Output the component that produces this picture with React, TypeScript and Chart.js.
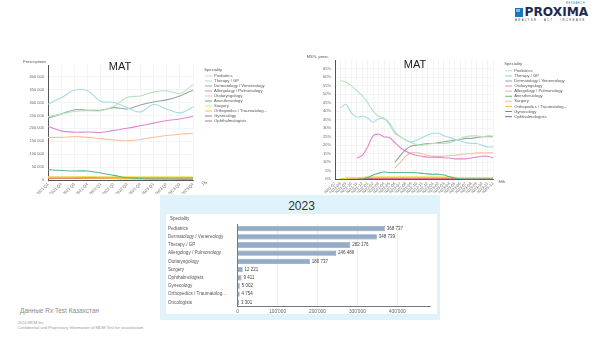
import React, { useEffect, useRef } from 'react';
import { Chart, registerables } from 'chart.js';

Chart.register(...registerables);

const FONT = "'Liberation Sans', Arial, Helvetica, sans-serif";

// ---------- Left chart: prescriptions, MAT by quarter ----------
const quarterLabels = ['2021 Q1', '2021 Q2', '2021 Q3', '2021 Q4', '2022 Q1', '2022 Q2', '2022 Q3', '2022 Q4', '2023 Q1', '2023 Q2', '2023 Q3', '2023 Q4'];
const rxTickValues = [0, 50000, 100000, 150000, 200000, 250000, 300000, 350000, 400000];
const rxSpecialities = ['Pediatrics', 'Therapy / GP', 'Dermatology / Venereology', 'Allergology / Pulmonology', 'Otolaryngology', 'Anesthesiology', 'Surgery', 'Orthopedics / Traumatolog...', 'Gynecology', 'Ophthalmologists'];
const rxPediatrics = [245000, 255000, 265000, 268000, 268000, 285000, 320000, 325000, 340000, 345000, 335000, 368700];
const rxTherapyGP = [293000, 318000, 347000, 345000, 305000, 300000, 280000, 263000, 292000, 275000, 260000, 282200];
const rxDermatology = [240000, 255000, 272000, 270000, 270000, 280000, 275000, 290000, 302000, 310000, 325000, 348700];
const rxAllergology = [208000, 190000, 185000, 186000, 184000, 192000, 200000, 210000, 220000, 230000, 236000, 246500];
const rxOtolaryngology = [165000, 165000, 168000, 165000, 160000, 155000, 152000, 157000, 165000, 172000, 177000, 180700];
const rxAnesthesiology = [40000, 37000, 35000, 35000, 27000, 18000, 9000, 6000, 4000, 4000, 3500, 3500];
const rxSurgery = [12000, 12000, 13000, 13000, 12000, 12000, 12000, 12000, 12000, 12000, 12000, 12200];
const rxOrthopedics = [8000, 8000, 8000, 7000, 7000, 6000, 6000, 5000, 5000, 5000, 5000, 4750];
const rxGynecology = [6000, 6000, 6000, 6000, 6000, 6000, 5000, 5000, 5000, 5000, 5000, 5000];
const rxOphthalmologists = [10000, 10000, 10000, 10000, 10000, 9000, 9000, 9000, 9000, 9000, 9000, 9400];

// ---------- Right chart: market share %, MAT by month ----------
const monthLabels = ['2021-07', '2021-08', '2021-09', '2021-10', '2021-11', '2021-12', '2022-01', '2022-02', '2022-03', '2022-04', '2022-05', '2022-06', '2022-07', '2022-08', '2022-09', '2022-10', '2022-11', '2022-12', '2023-01', '2023-02', '2023-03', '2023-04', '2023-05', '2023-06', '2023-07', '2023-08', '2023-09', '2023-10', '2023-11', '2023-12'];
const msTickValues = [0, 5, 10, 15, 20, 25, 30, 35, 40, 45, 50, 55, 60, 65];
const msSpecialities = ['Pediatrics', 'Therapy / GP', 'Dermatology / Venereology', 'Otolaryngology', 'Allergology / Pulmonology', 'Anesthesiology', 'Surgery', 'Orthopedics / Traumatolog...', 'Gynecology', 'Ophthalmologists'];
const msPediatrics = [null, 58, 57, 55, 52, 49, 45, 40, 37, 36, 33, 28, 25, 23, 21.5, 20.5, 20, 20.5, 21, 21, 21, 21.5, 22.5, 24, 25, 25.5, 25.5, 25, 25.5, 25.5];
const msTherapyGP = [null, 42, 44, 39, 36.5, 37, 36, 33.5, 35.5, 35.5, 32, 27, 25, 23, 22, 23, 24.5, 26, 27, 27, 25.5, 24.5, 23.5, 22.5, 21.5, 21, 21, 20, 19, 19];
const msDermatology = [null, null, null, null, null, null, null, null, null, null, null, 10, 14, 17.5, 19.5, 20, 20.5, 21, 21, 21.5, 22, 22.5, 23, 23.5, 24, 24, 24.5, 25, 25, 25];
const msOtolaryngology = [null, null, null, null, 12.5, 14, 19, 25.5, 26.5, 25, 24.5, 21.5, 18.5, 16.5, 15, 14, 13.5, 13, 13, 13, 12.5, 12.5, 12, 12, 12, 12.5, 13, 13.5, 13.5, 12.5];
const msAllergology = [null, null, null, null, null, null, null, null, null, null, null, 6.5, 10, 13.5, 15.5, 15.5, 15, 14, 13.5, 13.5, 13.5, 14, 14, 14.5, 15, 15, 15.5, 15.5, 15.5, 15.5];
const msAnesthesiology = [null, null, null, null, 0, 0.2, 1, 2.5, 3.5, 4.3, 4, 4, 4, 4, 4, 3.8, 3.5, 3.2, 3, 3, 2.5, 1.5, 0.8, 0.3, 0.1, 0.1, 0.1, 0.1, 0.1, 0.1];
const msSurgery = [null, 0.5, 0.8, 1, 1, 1.2, 1.5, 1.5, 1.5, 1.5, 1.5, 1.5, 1.5, 1.5, 1.5, 1.5, 1.5, 1.5, 1.5, 1.5, 1.5, 1.5, 1.2, 1, 1, 1, 1, 1, 1, 1];
const msOrthopedics = [null, 0.3, 0.5, 0.6, 0.7, 0.8, 1, 1, 1, 1, 1, 1, 1, 1, 1, 1, 1, 1, 1, 1, 1, 1, 0.9, 0.8, 0.8, 0.8, 0.8, 0.8, 0.8, 0.8];
const msGynecology = [null, 0.2, 0.2, 0.3, 0.3, 0.3, 0.4, 0.4, 0.4, 0.4, 0.4, 0.4, 0.4, 0.4, 0.4, 0.4, 0.4, 0.4, 0.4, 0.4, 0.4, 0.4, 0.3, 0.3, 0.3, 0.3, 0.3, 0.3, 0.3, 0.3];
const msOphthalmologists = [null, 0.4, 0.5, 0.5, 0.5, 0.6, 0.6, 0.6, 0.6, 0.6, 0.6, 0.6, 0.6, 0.6, 0.6, 0.6, 0.6, 0.6, 0.6, 0.6, 0.6, 0.6, 0.5, 0.5, 0.5, 0.5, 0.5, 0.5, 0.5, 0.5];

// ---------- Bottom chart: 2023 ----------
const barSpecialities = ['Pediatrics', 'Dermatology / Venereology', 'Therapy / GP', 'Allergology / Pulmonology', 'Otolaryngology', 'Surgery', 'Ophthalmologists', 'Gynecology', 'Orthopedics / Traumatolog...', 'Oncologists'];
const rx2023 = [368737, 348739, 282176, 246486, 180737, 12221, 9411, 5002, 4754, 3301];
const barTickValues = [0, 100000, 200000, 300000, 400000];

const palette = ['#b8e3bc', '#a6dbe6', '#97a89f', '#e384d4', '#f4c2a0', '#58b689', '#f3e157', '#f2c14a', '#d65d9a', '#9c7dc7'];

const fmtSpace = (v: number) => Math.round(v).toString().replace(/\B(?=(\d{3})+(?!\d))/g, ' ');
const fmtApos = (v: number) => Math.round(v).toString().replace(/\B(?=(\d{3})+(?!\d))/g, "'");
const fixedTicks = (vals: number[]) => (s: any) => { s.ticks = vals.map((value) => ({ value })); };

const legendFix = {
  id: 'legendFix',
  beforeLayout(chart: any, _a: any, opts: any) {
    const lg = chart.legend;
    if (lg && !lg.__patched) {
      const orig = lg.fit.bind(lg);
      lg.fit = function () {
        orig();
        if (this.options.display && opts && opts.width) this.width = opts.width;
      };
      lg.__patched = true;
    }
  },
  afterLayout(chart: any, _a: any, opts: any) {
    const lg = chart.legend;
    if (lg && opts && opts.shift) {
      lg.left += opts.shift;
      lg.right += opts.shift;
    }
  },
};

const barValues = {
  id: 'barValues',
  afterDatasetsDraw(chart: any) {
    const ctx = chart.ctx;
    const meta = chart.getDatasetMeta(0);
    ctx.save();
    ctx.font = `4.5px ${FONT}`;
    ctx.fillStyle = '#444';
    ctx.textBaseline = 'middle';
    ctx.textAlign = 'left';
    meta.data.forEach((bar: any, i: number) => {
      const v = chart.data.datasets[0].data[i];
      ctx.fillText(fmtSpace(v), bar.x + 2, bar.y);
    });
    ctx.restore();
  },
};

function lineDatasets(names: string[], series: (number | null)[][]) {
  return names.map((n, i) => ({
    label: n,
    data: series[i],
    borderColor: palette[i],
    backgroundColor: palette[i],
    borderWidth: 1.1,
    pointRadius: 0,
    tension: 0.35,
    fill: false,
  }));
}

function legendOpts(titlePadTop: number, pad: number) {
  return {
    position: 'right' as const,
    align: 'start' as const,
    labels: {
      usePointStyle: true,
      pointStyle: 'line',
      pointStyleWidth: 7,
      boxHeight: 4,
      font: { size: 4.2, family: FONT },
      color: '#555',
      padding: pad,
    },
    title: {
      display: true,
      text: 'Speciality',
      position: 'start' as const,
      padding: { top: titlePadTop, bottom: 0.5 },
      font: { size: 4.2, family: FONT },
      color: '#555',
    },
  };
}

export default function App() {
  const leftRef = useRef<HTMLCanvasElement>(null);
  const rightRef = useRef<HTMLCanvasElement>(null);
  const barRef = useRef<HTMLCanvasElement>(null);

  useEffect(() => {
    Chart.defaults.font.family = FONT;
    const gridColor = '#ececec';
    const axisColor = '#555';

    const left = new Chart(leftRef.current!, {
      type: 'line',
      data: {
        labels: quarterLabels,
        datasets: lineDatasets(rxSpecialities, [rxPediatrics, rxTherapyGP, rxDermatology, rxAllergology, rxOtolaryngology, rxAnesthesiology, rxSurgery, rxOrthopedics, rxGynecology, rxOphthalmologists]),
      },
      options: {
        animation: false,
        responsive: false,
        maintainAspectRatio: false,
        layout: { padding: { left: 8, top: 10, right: 27, bottom: 6 } },
        plugins: {
          legend: legendOpts(2.5, 0.8) as any,
          tooltip: { enabled: false },
          legendFix: { width: 80, shift: 11.2 },
        } as any,
        scales: {
          x: {
            grid: { color: gridColor, drawTicks: false, lineWidth: 0.6 },
            border: { color: axisColor, width: 1 },
            ticks: { autoSkip: false, minRotation: 45, maxRotation: 45, font: { size: 4 }, color: '#666', padding: 2 },
            afterFit: (s: any) => { s.height = 14; },
          },
          y: {
            min: 0,
            max: 445000,
            grid: { color: gridColor, drawTicks: false, lineWidth: 0.6 },
            border: { color: axisColor, width: 1 },
            afterBuildTicks: fixedTicks(rxTickValues),
            ticks: {
              font: { size: 4 },
              color: '#666',
              padding: 4,
              callback: (v: any) => fmtSpace(Number(v)),
            },
            afterFit: (s: any) => { s.width = 40; },
          },
        },
      },
      plugins: [legendFix],
    });

    const right = new Chart(rightRef.current!, {
      type: 'line',
      data: {
        labels: monthLabels,
        datasets: lineDatasets(msSpecialities, [msPediatrics, msTherapyGP, msDermatology, msOtolaryngology, msAllergology, msAnesthesiology, msSurgery, msOrthopedics, msGynecology, msOphthalmologists]),
      },
      options: {
        animation: false,
        responsive: false,
        maintainAspectRatio: false,
        layout: { padding: { left: 8, top: 10, right: 27, bottom: 6.7 } },
        plugins: {
          legend: legendOpts(2.2, 0.9) as any,
          tooltip: { enabled: false },
          legendFix: { width: 80, shift: 11.2 },
        } as any,
        scales: {
          x: {
            grid: { color: gridColor, drawTicks: false, lineWidth: 0.6 },
            border: { color: axisColor, width: 1 },
            ticks: { autoSkip: false, minRotation: 45, maxRotation: 45, font: { size: 4 }, color: '#666', padding: 2 },
            afterFit: (s: any) => { s.height = 14; },
          },
          y: {
            min: 0,
            max: 70,
            grid: { color: gridColor, drawTicks: false, lineWidth: 0.6 },
            border: { color: axisColor, width: 1 },
            afterBuildTicks: fixedTicks(msTickValues),
            ticks: {
              font: { size: 4 },
              color: '#666',
              padding: 4,
              callback: (v: any) => `${v}%`,
            },
            afterFit: (s: any) => { s.width = 27; },
          },
        },
      },
      plugins: [legendFix],
    });

    const bar = new Chart(barRef.current!, {
      type: 'bar',
      data: {
        labels: barSpecialities,
        datasets: [{
          label: '2023',
          data: rx2023,
          backgroundColor: '#93adc9',
          borderColor: '#6a87a7',
          borderWidth: 0.6,
          barPercentage: 0.72,
          categoryPercentage: 0.9,
        }],
      },
      options: {
        indexAxis: 'y',
        animation: false,
        responsive: false,
        maintainAspectRatio: false,
        layout: { padding: { left: 2, top: 10.5, right: 7, bottom: 0 } },
        plugins: { legend: { display: false }, tooltip: { enabled: false } },
        scales: {
          x: {
            min: 0,
            max: 482000,
            grid: {
              drawTicks: false,
              lineWidth: 0.6,
              color: (c: any) => (c.tick && c.tick.value > 0 ? '#e3e3e3' : 'transparent'),
            },
            border: { color: '#777', width: 1 },
            afterBuildTicks: fixedTicks(barTickValues),
            ticks: {
              font: { size: 4.8 },
              color: '#666',
              padding: 2,
              callback: (v: any) => fmtApos(Number(v)),
            },
            afterFit: (s: any) => { s.height = 7.5; },
          },
          y: {
            grid: { display: false, drawTicks: false },
            border: { color: '#777', width: 1 },
            ticks: { crossAlign: 'far', font: { size: 4.6 }, color: '#555', padding: 0, autoSkip: false },
            afterFit: (s: any) => { s.width = 69.7; },
          },
        },
      },
      plugins: [barValues],
    });

    return () => {
      left.destroy();
      right.destroy();
      bar.destroy();
    };
  }, []);

  const abs = (o: React.CSSProperties): React.CSSProperties => ({ position: 'absolute', margin: 0, lineHeight: 1, whiteSpace: 'nowrap', ...o });

  return (
    <div style={{ position: 'fixed', left: 0, top: 0, width: 600, height: 338, background: '#fff', overflow: 'hidden', fontFamily: FONT }}>
      {/* Logo */}
      <div style={abs({ left: 515, top: 7.5, width: 8, height: 9, background: '#1b75bb' })}>
        <div style={abs({ left: 1, top: 1, width: 3.5, height: 3.5, background: '#7fb9e3' })} />
      </div>
      <div style={abs({ left: 524.5, top: 6, fontFamily: "'DejaVu Sans', sans-serif", fontWeight: 'bold', fontSize: 12.2, color: '#1d2b4f' })}>PROXIMA</div>
      <div style={abs({ left: 566, top: 2.6, fontSize: 2.6, color: '#1b75bb', letterSpacing: 0.6 })}>RESEARCH</div>
      <div style={abs({ left: 515, top: 19.6, fontSize: 2.7, color: '#333', letterSpacing: 1.45 })}>ANALYSE · ACT · INCREASE</div>

      {/* Bottom panel */}
      <div style={abs({ left: 160, top: 195, width: 280, height: 125, background: '#e0f3fb' })} />
      <div style={abs({ left: 166, top: 214, width: 271, height: 100, background: '#fff' })} />
      <div style={abs({ left: 301.5, top: 200.1, fontSize: 12, color: '#333', transform: 'translateX(-50%)' })}>2023</div>
      <canvas ref={barRef} width={271} height={100} style={{ position: 'absolute', left: 166, top: 214, width: 271, height: 100, display: 'block' }} />
      <div style={abs({ left: 170, top: 216.8, fontSize: 4.5, color: '#555' })}>Speciality</div>

      {/* Left line chart */}
      <canvas ref={leftRef} width={300} height={145} style={{ position: 'absolute', left: 0, top: 55, width: 300, height: 145, display: 'block' }} />
      <div style={abs({ left: 120, top: 61.3, fontSize: 11, color: '#222', transform: 'translateX(-50%)' })}>MAT</div>
      <div style={abs({ left: 23, top: 60, fontSize: 4, color: '#555' })}>Prescriptions</div>
      <div style={abs({ left: 201.5, top: 180.7, fontSize: 4, color: '#555' })}>Qtr</div>

      {/* Right line chart */}
      <canvas ref={rightRef} width={300} height={150} style={{ position: 'absolute', left: 300, top: 50, width: 300, height: 150, display: 'block' }} />
      <div style={abs({ left: 415, top: 58.6, fontSize: 11, color: '#222', transform: 'translateX(-50%)' })}>MAT</div>
      <div style={abs({ left: 306.7, top: 54.7, fontSize: 4, color: '#555' })}>MS%, presc.</div>
      <div style={abs({ left: 498.5, top: 179.7, fontSize: 4, color: '#555' })}>Mth</div>

      {/* Footer */}
      <div style={abs({ left: 20, top: 307.8, fontSize: 6.5, color: '#8c8c8c' })}>Данные Rx Test Казахстан</div>
      <div style={abs({ left: 17.5, top: 321.3, fontSize: 4, color: '#9a9a9a' })}>2024 MDM Inc.</div>
      <div style={abs({ left: 17.5, top: 326.3, fontSize: 4.1, color: '#9a9a9a' })}>Confidential and Proprietary Information of MDM Test for visualization</div>
    </div>
  );
}
